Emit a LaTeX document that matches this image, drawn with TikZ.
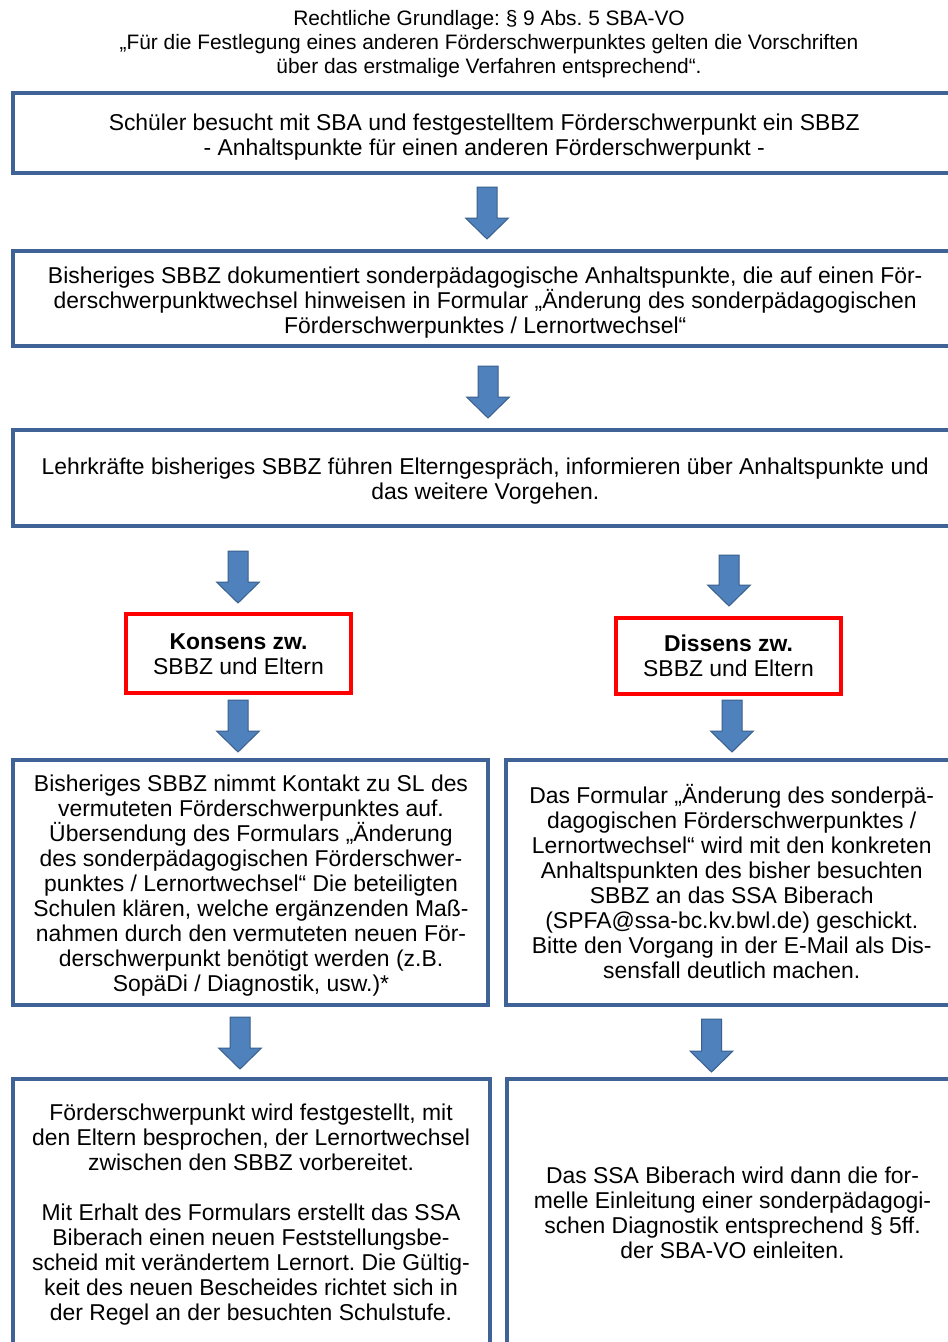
\documentclass[tikz,border=0pt]{standalone}
\usepackage{fontspec}
\setmainfont{Liberation Sans}
\usetikzlibrary{calc}
\frenchspacing
\definecolor{boxblue}{HTML}{3F6396}
\definecolor{arrfill}{HTML}{4F81BD}
\definecolor{arrline}{HTML}{3A5F8C}
\definecolor{boxred}{HTML}{FF0000}
\tikzset{
  bluebox/.style={draw=boxblue, line width=4pt, rectangle, inner sep=0pt},
  redbox/.style={draw=boxred, line width=4pt, rectangle, inner sep=0pt},
  boxtext/.style={inner sep=0pt, align=center, font=\fontsize{22.9}{25}\selectfont},
  titletext/.style={inner sep=0pt, align=center, font=\fontsize{20.9}{24}\selectfont},
  blockarr/.style={fill=arrfill, draw=arrline, line width=1pt, line join=miter},
}
\newcommand{\blockarrow}[4]{%
  \coordinate (#1s) at (#2,#3);
  \coordinate (#1e) at (#2,#4);
  \draw[blockarr] ($(#1s)+(-10,0)$) -- ($(#1s)+(10,0)$) -- ($(#1e)+(10,-21)$)
    -- ($(#1e)+(21.5,-21)$) -- (#1e) -- ($(#1e)+(-21.5,-21)$) -- ($(#1e)+(-10,-21)$) -- cycle;
}
\begin{document}
\begin{tikzpicture}[x=1pt,y=-1pt]
\useasboundingbox (0,0) rectangle (948,1342);
\clip (0,0) rectangle (948,1342);
\fill[white] (0,0) rectangle (948,1342);

\node[titletext] (title) at (489,44) {Rechtliche Grundlage: § 9 Abs. 5 SBA-VO\\
„Für die Festlegung eines anderen Förderschwerpunktes gelten die Vorschriften\\
über das erstmalige Verfahren entsprechend“.};

% boxes
\node[bluebox, minimum width=945.5pt, minimum height=80pt] (b1) at (485.25,132.5) {};
\node[bluebox, minimum width=945.5pt, minimum height=95pt] (b2) at (485.25,298.5) {};
\node[bluebox, minimum width=945.5pt, minimum height=96pt] (b3) at (485.25,478) {};
\node[redbox, minimum width=225pt, minimum height=79pt] (kons) at (238.5,653.5) {};
\node[redbox, minimum width=225pt, minimum height=76pt] (diss) at (728.5,656) {};
\node[bluebox, minimum width=475pt, minimum height=245.5pt] (ml) at (250,882.25) {};
\node[bluebox, minimum width=452.5pt, minimum height=245.5pt] (mr) at (731.75,882.25) {};
\node[bluebox, minimum width=477pt, minimum height=267pt] (bl) at (251,1212.5) {};
\node[bluebox, minimum width=451pt, minimum height=267pt] (br) at (732.5,1212.5) {};

% texts
\node[boxtext] (t1) at ($(b1.center)+(-1,5)$)
{Schüler besucht mit SBA und festgestelltem Förderschwerpunkt ein SBBZ\\
- Anhaltspunkte für einen anderen Förderschwerpunkt -};

\node[boxtext] (t2) at ($(b2.center)+(0,4)$)
{Bisheriges SBBZ dokumentiert sonderpädagogische Anhaltspunkte, die auf einen För-\\
derschwerpunktwechsel hinweisen in Formular „Änderung des sonderpädagogischen\\
Förderschwerpunktes / Lernortwechsel“};

\node[boxtext] (t3) at ($(b3.center)+(0,3)$)
{Lehrkräfte bisheriges SBBZ führen Elterngespräch, informieren über Anhaltspunkte und\\
das weitere Vorgehen.};

\node[boxtext] (tk) at ($(kons.center)+(0,0.5)$)
{\textbf{Konsens zw.}\\SBBZ und Eltern};

\node[boxtext] (td) at (diss.center)
{\textbf{Dissens zw.}\\SBBZ und Eltern};

\node[boxtext] (tml) at ($(ml.center)+(1,3)$)
{Bisheriges SBBZ nimmt Kontakt zu SL des\\
vermuteten Förderschwerpunktes auf.\\
Übersendung des Formulars „Änderung\\
des sonderpädagogischen Förderschwer-\\
punktes / Lernortwechsel“ Die beteiligten\\
Schulen klären, welche ergänzenden Maß-\\
nahmen durch den vermuteten neuen För-\\
derschwerpunkt benötigt werden (z.B.\\
SopäDi / Diagnostik, usw.)*};

\node[boxtext] (tmr) at ($(mr.center)+(0,-1)$)
{Das Formular „Änderung des sonderpä-\\
dagogischen Förderschwerpunktes /\\
Lernortwechsel“ wird mit den konkreten\\
Anhaltspunkten des bisher besuchten\\
SBBZ an das SSA Biberach\\
(SPFA@ssa-bc.kv.bwl.de) geschickt.\\
Bitte den Vorgang in der E-Mail als Dis-\\
sensfall deutlich machen.};

\node[boxtext] (tbl) at ($(bl.center)+(0,2)$)
{Förderschwerpunkt wird festgestellt, mit\\
den Eltern besprochen, der Lernortwechsel\\
zwischen den SBBZ vorbereitet.\\[25pt]
Mit Erhalt des Formulars erstellt das SSA\\
Biberach einen neuen Feststellungsbe-\\
scheid mit verändertem Lernort. Die Gültig-\\
keit des neuen Bescheides richtet sich in\\
der Regel an der besuchten Schulstufe.};

\node[boxtext] (tbr) at (br.center)
{Das SSA Biberach wird dann die for-\\
melle Einleitung einer sonderpädagogi-\\
schen Diagnostik entsprechend § 5ff.\\
der SBA-VO einleiten.};

% block arrows
\blockarrow{a1}{487}{187}{239}
\blockarrow{a2}{488}{366}{418}
\blockarrow{a3l}{238}{551}{603}
\blockarrow{a3r}{729}{555}{606}
\blockarrow{a4l}{238}{700}{752}
\blockarrow{a4r}{732}{700}{752}
\blockarrow{a5l}{240}{1017}{1069}
\blockarrow{a5r}{711.5}{1019}{1072}
\end{tikzpicture}
\end{document}
